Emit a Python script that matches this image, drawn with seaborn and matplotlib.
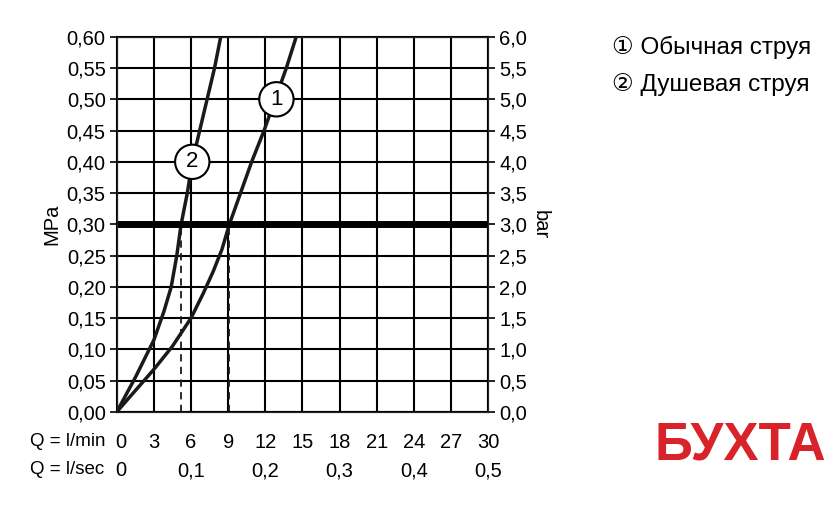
import matplotlib
matplotlib.use("Agg")
import matplotlib.pyplot as plt
import seaborn as sns
import pandas as pd

# flow l/min vs pressure MPa
q1 = [0, 1.5, 3, 4.5, 6, 7, 7.8, 8.5, 9.1, 10, 10.9, 11.9, 12.8, 13.7, 14.5]
p1 = [0, 0.034, 0.068, 0.105, 0.15, 0.19, 0.225, 0.26, 0.30, 0.35, 0.40, 0.45, 0.50, 0.55, 0.60]
q2 = [0, 1.5, 3, 3.8, 4.4, 4.85, 5.2, 5.7, 6.1, 6.7, 7.3, 7.9, 8.4]
p2 = [0, 0.055, 0.115, 0.16, 0.20, 0.25, 0.30, 0.35, 0.40, 0.45, 0.50, 0.55, 0.60]
work_q = [5.2, 9.1]
work_p = 0.30
lmin_ticks = list(range(0, 31, 3))
lsec_ticks = [0, 6, 12, 18, 24, 30]
lsec_labels = ["0", "0,1", "0,2", "0,3", "0,4", "0,5"]
legend_lines = ["① Обычная струя", "② Душевая струя"]

sns.set_style("white")
plt.rcParams["font.family"] = ["Liberation Sans", "DejaVu Sans"]
plt.rcParams["text.color"] = "black"
plt.rcParams["ytick.color"] = "black"
plt.rcParams["axes.labelcolor"] = "black"

fig = plt.figure(figsize=(8.4, 5.11), dpi=100)
ax = fig.add_axes([0.139, 0.194, 0.442, 0.734])

df1 = pd.DataFrame({"q": q1, "p": p1})
df2 = pd.DataFrame({"q": q2, "p": p2})
sns.lineplot(data=df1, x="q", y="p", ax=ax, color="#1a1a1a", lw=2.5, sort=False)
sns.lineplot(data=df2, x="q", y="p", ax=ax, color="#1a1a1a", lw=2.5, sort=False)

ax.axhline(work_p, color="black", lw=5, zorder=5)
for q in work_q:
    ax.plot([q, q], [0, work_p], color="#1a1a1a", lw=1.3, ls=(0, (4, 3)))

for lbl, (x, y) in [("1", (12.9, 0.50)), ("2", (6.1, 0.40))]:
    ax.text(x, y, lbl, ha="center", va="center", fontsize=16, zorder=6,
            bbox=dict(boxstyle="circle,pad=0.3", fc="white", ec="black", lw=1.5))

fs = 14.5
ax.set_xlim(0, 30)
ax.set_ylim(0, 0.6)
ax.set_xticks(lmin_ticks)
ax.set_yticks([i * 0.05 for i in range(13)])
ax.set_yticklabels([f"{i*0.05:.2f}".replace(".", ",") for i in range(13)], fontsize=fs)
ax.set_xticklabels([])
ax.grid(True, color="black", lw=1.5)
for s in ax.spines.values():
    s.set_color("black")
    s.set_linewidth(1.5)
ax.tick_params(axis="y", direction="out", length=5, width=1.2, left=True, pad=3)
ax.tick_params(axis="x", length=0)
ax.set_ylabel("MPa", fontsize=fs, labelpad=4)
ax.set_xlabel("")

ax2 = ax.twinx()
ax2.set_ylim(0, 6)
ax2.set_yticks([i * 0.5 for i in range(13)])
ax2.set_yticklabels([f"{i*0.5:.1f}".replace(".", ",") for i in range(13)], fontsize=fs)
ax2.tick_params(axis="y", direction="out", length=5, width=1.2, right=True, pad=3)
ax2.set_ylabel("bar", fontsize=fs, rotation=270, labelpad=16)

trans = ax.get_xaxis_transform()
for q in lmin_ticks:
    ax.text(q + (0.3 if q == 0 else 0), -0.082, str(q), transform=trans,
            ha="center", va="center", fontsize=fs)
for q, l in zip(lsec_ticks, lsec_labels):
    ax.text(q + (0.3 if q == 0 else 0), -0.157, l, transform=trans,
            ha="center", va="center", fontsize=fs)
fig.text(30 / 840, 1 - 442 / 511, "Q = l/min", ha="left", va="center", fontsize=13.5)
fig.text(30 / 840, 1 - 470 / 511, "Q = l/sec", ha="left", va="center", fontsize=13.5)

fig.text(612 / 840, 1 - 47 / 511, legend_lines[0], ha="left", va="center", fontsize=17.5)
fig.text(612 / 840, 1 - 85 / 511, legend_lines[1], ha="left", va="center", fontsize=17.5)

fig.text(740 / 840, 1 - 445 / 511, "БУХТА", ha="center", va="center", fontsize=38,
         fontweight="bold", color="#d8232a", fontstretch="condensed")

fig.savefig("out.png", dpi=100)
